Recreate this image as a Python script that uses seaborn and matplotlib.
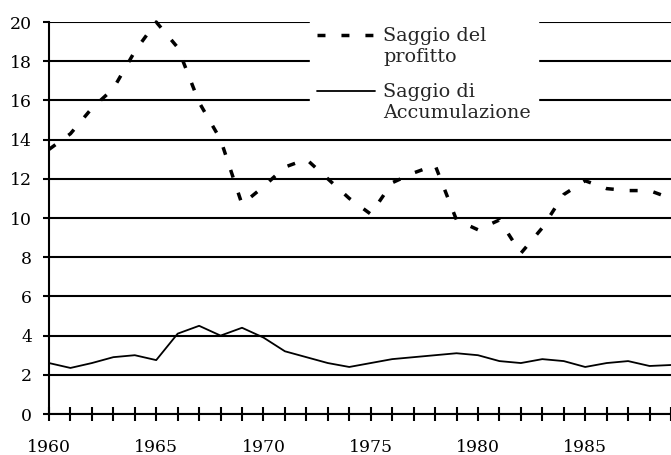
import numpy as np
import pandas as pd
import matplotlib
matplotlib.use("Agg")
import matplotlib.pyplot as plt
import seaborn as sns
from matplotlib.lines import Line2D
from matplotlib.legend_handler import HandlerLine2D

# ---------------- data ----------------
anni = list(range(1960, 1990))
saggio_profitto = [13.5, 14.3, 15.6, 16.6, 18.5, 20.0, 18.7, 15.9, 14.0, 10.7,
                   11.6, 12.6, 13.0, 12.0, 11.0, 10.2, 11.8, 12.3, 12.7, 9.9,
                   9.4, 9.9, 8.2, 9.5, 11.2, 11.9, 11.5, 11.4, 11.4, 11.0]
saggio_accumulazione = [2.6, 2.35, 2.6, 2.9, 3.0, 2.75, 4.1, 4.5, 4.0, 4.4,
                        3.9, 3.2, 2.9, 2.6, 2.4, 2.6, 2.8, 2.9, 3.0, 3.1,
                        3.0, 2.7, 2.6, 2.8, 2.7, 2.4, 2.6, 2.7, 2.45, 2.5]
etichetta_profitto = "Saggio del\nprofitto"
etichetta_accumulazione = "Saggio di\nAccumulazione"
y_ticks = list(range(0, 21, 2))
x_major_ticks = [1960, 1965, 1970, 1975, 1980, 1985]
x_minor_ticks = list(range(1960, 1990))

# ---------------- style ----------------
sns.set_theme(style="white")
plt.rcParams["font.family"] = ["DejaVu Serif", "DejaVu Sans"]

fig = plt.figure(figsize=(6.71, 4.55), dpi=100)
ax = fig.add_axes([0.073, 0.0901, 0.927, 0.8615])

df = pd.DataFrame({"anno": anni,
                   "profitto": saggio_profitto,
                   "accumulazione": saggio_accumulazione})

sns.lineplot(data=df, x="anno", y="profitto", ax=ax, color="black",
             lw=2.5, clip_on=False, zorder=3)
line_p = ax.lines[-1]
line_p.set_dashes([2.3, 4.6])

sns.lineplot(data=df, x="anno", y="accumulazione", ax=ax, color="black",
             lw=1.3, clip_on=False, zorder=3)
line_a = ax.lines[-1]

# ---------------- axes ----------------
ax.set_xlim(1960, 1989)
ax.set_ylim(0, 20)
ax.set_xlabel("")
ax.set_ylabel("")
ax.set_yticks(y_ticks)
ax.set_yticklabels([str(v) for v in y_ticks])
ax.set_xticks(x_major_ticks)
ax.set_xticklabels([str(v) for v in x_major_ticks])
ax.set_xticks(x_minor_ticks, minor=True)

ax.grid(axis="y", color="black", lw=1.5)
ax.grid(axis="x", visible=False)
ax.set_axisbelow(True)
for s in ["top", "right"]:
    ax.spines[s].set_visible(False)
for s in ["left", "bottom"]:
    ax.spines[s].set_color("black")
    ax.spines[s].set_linewidth(1.5)

ax.tick_params(axis="x", which="both", direction="inout", length=10,
               width=1.5, color="black", pad=13, labelsize=12.4,
               labelcolor="black", bottom=True)
ax.tick_params(axis="y", which="major", direction="out", length=4.3,
               width=1.5, color="black", pad=8, labelsize=12.4,
               labelcolor="black", left=True)


# ---------------- legend ----------------
class HandlerTop(HandlerLine2D):
    """Place the legend line at the first line of a two-line label."""

    def __init__(self, shift_frac=0.65, **kw):
        super().__init__(**kw)
        self.shift_frac = shift_frac

    def create_artists(self, legend, orig_handle, xdescent, ydescent,
                       width, height, fontsize, trans):
        arts = super().create_artists(legend, orig_handle, xdescent, ydescent,
                                      width, height, fontsize, trans)
        for a in arts:
            yd = np.asarray(a.get_ydata(), dtype=float)
            a.set_ydata(yd + self.shift_frac * fontsize)
        return arts


leg = ax.legend(handles=[line_p, line_a],
                labels=[etichetta_profitto, etichetta_accumulazione],
                handler_map={Line2D: HandlerTop()},
                loc="upper left", bbox_to_anchor=(0.4625, 0.9545),
                bbox_transform=fig.transFigure, borderaxespad=0,
                borderpad=0.35, frameon=True, fancybox=False,
                facecolor="white", edgecolor="white", framealpha=1,
                handlelength=3.0, handletextpad=0.45, labelspacing=0.9,
                prop={"family": "DejaVu Serif", "size": 13.8})
leg.set_zorder(5)

fig.savefig("out.png", dpi=100)
